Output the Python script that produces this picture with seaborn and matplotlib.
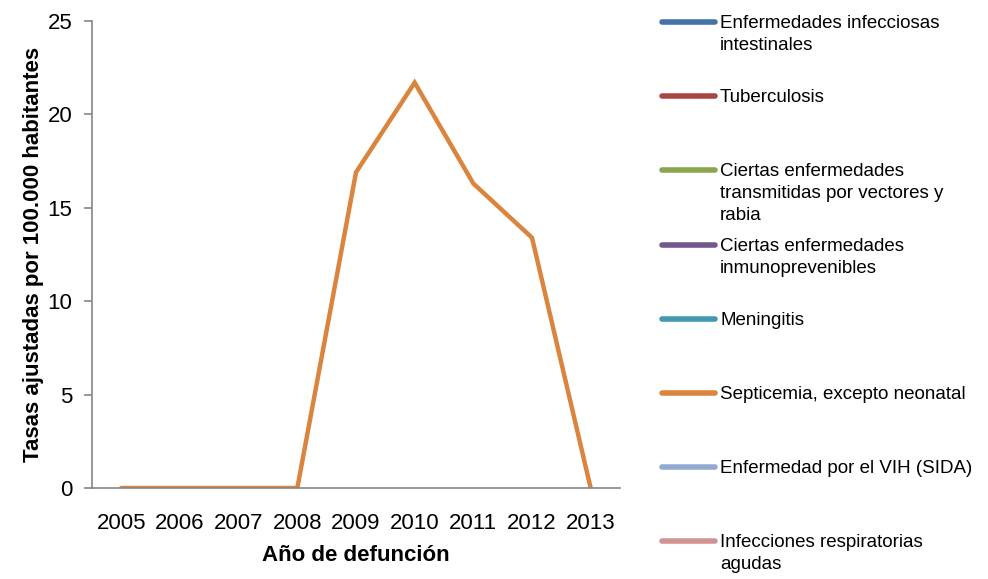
import numpy as np
import pandas as pd
import seaborn as sns
import matplotlib.pyplot as plt
from matplotlib.lines import Line2D

# data
years = ['2005', '2006', '2007', '2008', '2009', '2010', '2011', '2012', '2013']
series_names = [
    'Enfermedades infecciosas\nintestinales',
    'Tuberculosis',
    'Ciertas enfermedades\ntransmitidas por vectores y\nrabia',
    'Ciertas enfermedades\ninmunoprevenibles',
    'Meningitis',
    'Septicemia, excepto neonatal',
    'Enfermedad por el VIH (SIDA)',
    'Infecciones respiratorias\nagudas',
]
series_colors = ['#4672AC', '#AA4643', '#89A54E', '#71588F',
                 '#4198AF', '#DB843D', '#93A9CF', '#D19392']
# only septicemia has values in this chart; the other series are empty
values = {
    'Septicemia, excepto neonatal': [0, 0, 0, 0, 16.9, 21.7, 16.3, 13.4, 0],
}

sns.set_style('white')
plt.rcParams['font.family'] = ['Liberation Sans', 'DejaVu Sans']
plt.rcParams['text.color'] = 'black'
plt.rcParams['xtick.color'] = 'black'
plt.rcParams['ytick.color'] = 'black'
plt.rcParams['axes.labelcolor'] = 'black'

fig = plt.figure(figsize=(9.88, 5.79), dpi=100)
ax = fig.add_axes([92 / 988, 1 - 488 / 579, (620 - 92) / 988, (488 - 21) / 579])

for name, color in zip(series_names, series_colors):
    if name not in values:
        continue
    df = pd.DataFrame({'year': years, 'rate': values[name]})
    sns.lineplot(data=df, x='year', y='rate', color=color, linewidth=3.2,
                 ax=ax, legend=False, solid_joinstyle='miter')

# axes styling like the original spreadsheet chart
ax.set_xlim(-0.5, len(years) - 0.5)
ax.set_ylim(0, 25)
ax.set_yticks([0, 5, 10, 15, 20, 25])
ax.set_xticks(range(len(years)))
ax.set_xticklabels(years)
ax.set_xticks(np.arange(-0.5, len(years), 1.0), minor=True)
ax.tick_params(axis='x', which='major', length=0, pad=18, labelsize=16)
ax.tick_params(axis='x', which='minor', length=6, width=1.2, color='#868686', direction='out')
ax.tick_params(axis='y', length=6, width=1.2, color='#868686', labelcolor='black',
               direction='out', pad=8, labelsize=16)
ax.tick_params(axis='both', bottom=True, left=True)
for side in ['top', 'right']:
    ax.spines[side].set_visible(False)
for side in ['left', 'bottom']:
    ax.spines[side].set_color('#868686')
    ax.spines[side].set_linewidth(1.2)

ax.set_xlabel('Año de defunción', fontsize=16, fontweight='bold', labelpad=8)
ax.set_ylabel('Tasas ajustadas por 100.000 habitantes', fontsize=16, fontweight='bold', labelpad=3)

# legend on the right, drawn by hand so the line sits on the first text line
W, H = 988, 579
for i, (name, color) in enumerate(zip(series_names, series_colors)):
    y = 22 + i * 74.2
    fig.add_artist(Line2D([662 / W, 715 / W], [1 - y / H, 1 - y / H], color=color,
                          linewidth=4, solid_capstyle='round'))
    fig.text(720 / W, 1 - (y - 7) / H, name, fontsize=13.5, va='top', ha='left',
             linespacing=1.38)

fig.savefig('out.png', dpi=100)
